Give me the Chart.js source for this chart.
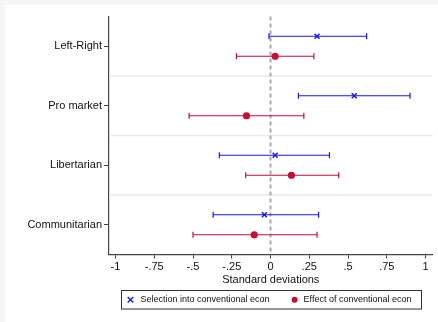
<!DOCTYPE html>
<html>
<head>
<meta charset="utf-8">
<script src="https://cdn.jsdelivr.net/npm/chart.js@4/dist/chart.umd.min.js"></script>
<style>
  html, body { margin: 0; padding: 0; background: #f6f6f6; }
  #wrap { position: absolute; left: 5px; top: 5px; width: 433px; height: 317px; background: #fff; }
</style>
</head>
<body>
<div id="wrap"><canvas id="coefChart" width="433" height="317"></canvas></div>
<script>
// coefficient estimates and 95% intervals
const categories = ['Left-Right', 'Pro market', 'Libertarian', 'Communitarian'];
const selEst = [0.30, 0.54, 0.03, -0.04];
const selLo  = [-0.01, 0.18, -0.33, -0.37];
const selHi  = [0.62, 0.90, 0.38, 0.31];
const effEst = [0.03, -0.155, 0.135, -0.105];
const effLo  = [-0.22, -0.525, -0.16, -0.50];
const effHi  = [0.28, 0.215, 0.44, 0.30];
const xTicks = [-1, -0.75, -0.5, -0.25, 0, 0.25, 0.5, 0.75, 1];
const xTickLabels = ['-1', '-.75', '-.5', '-.25', '0', '.25', '.5', '.75', '1'];
const seriesNames = ['Selection into conventional econ', 'Effect of conventional econ'];

const FONT = 'Liberation Sans, Arial, Helvetica, sans-serif';
const BLUE = 'rgb(24,24,240)';
const RED = 'rgb(196,14,56)';
const OFF = 0.168;

function toPoints(est, shift) {
    return est.map((v, i) => ({ x: v, y: i + 0.5 + shift }));
}

// error bars + dashed zero line + group separators
const decor = {
    id: 'decor',
    beforeDatasetsDraw(chart) {
        const { ctx, chartArea: a, scales: { x, y } } = chart;
        ctx.save();
        // separators between groups
        ctx.strokeStyle = '#e6ebee';
        ctx.lineWidth = 1.5;
        for (let k = 1; k < categories.length; k++) {
            const py = y.getPixelForValue(k);
            ctx.beginPath();
            ctx.moveTo(a.left, py);
            ctx.lineTo(a.right, py);
            ctx.stroke();
        }
        // zero line
        const zx = x.getPixelForValue(0);
        ctx.strokeStyle = '#a9a9a9';
        ctx.lineWidth = 2;
        ctx.setLineDash([4, 3]);
        ctx.beginPath();
        ctx.moveTo(zx, a.top);
        ctx.lineTo(zx, a.bottom);
        ctx.stroke();
        ctx.setLineDash([]);
        // intervals
        chart.data.datasets.forEach((ds, i) => {
            const meta = chart.getDatasetMeta(i);
            ctx.strokeStyle = ds.borderColor;
            ctx.lineWidth = 1.2;
            meta.data.forEach((pt, j) => {
                const x0 = x.getPixelForValue(ds.errLo[j]);
                const x1 = x.getPixelForValue(ds.errHi[j]);
                const py = pt.y;
                ctx.beginPath();
                ctx.moveTo(x0, py); ctx.lineTo(x1, py);
                ctx.moveTo(x0, py - 3); ctx.lineTo(x0, py + 3);
                ctx.moveTo(x1, py - 3); ctx.lineTo(x1, py + 3);
                ctx.stroke();
            });
        });
        ctx.restore();
    },
    afterDraw(chart) {
        // boxed legend under the plot
        const { ctx, chartArea: a } = chart;
        ctx.save();
        ctx.font = '9px ' + FONT;
        const w0 = ctx.measureText(seriesNames[0]).width;
        const w1 = ctx.measureText(seriesNames[1]).width;
        const boxW = 9 + 10 + w0 + 25 + 9 + w1 + 10;
        const left = Math.round((a.left + a.right) / 2 - boxW / 2) + 0.5;
        const top = 285.5, h = 18.5;
        ctx.strokeStyle = '#333';
        ctx.lineWidth = 1;
        ctx.strokeRect(left, top, boxW, h);
        const cy = top + h / 2;
        // marker 1: cross
        let mx = left + 9;
        ctx.strokeStyle = BLUE;
        ctx.lineWidth = 1.4;
        ctx.beginPath();
        ctx.moveTo(mx - 2.8, cy - 2.8); ctx.lineTo(mx + 2.8, cy + 2.8);
        ctx.moveTo(mx - 2.8, cy + 2.8); ctx.lineTo(mx + 2.8, cy - 2.8);
        ctx.stroke();
        ctx.fillStyle = '#111';
        ctx.textBaseline = 'middle';
        ctx.fillText(seriesNames[0], mx + 10, cy);
        // marker 2: dot
        mx = mx + 10 + w0 + 25;
        ctx.fillStyle = RED;
        ctx.beginPath();
        ctx.arc(mx, cy, 3, 0, Math.PI * 2);
        ctx.fill();
        ctx.fillStyle = '#111';
        ctx.fillText(seriesNames[1], mx + 9, cy);
        ctx.restore();
    }
};

new Chart(document.getElementById('coefChart'), {
    type: 'scatter',
    data: {
        datasets: [
            {
                label: seriesNames[0],
                data: toPoints(selEst, -OFF),
                errLo: selLo, errHi: selHi,
                borderColor: BLUE,
                backgroundColor: BLUE,
                pointStyle: 'crossRot',
                pointRadius: 3.5,
                pointBorderWidth: 1.5
            },
            {
                label: seriesNames[1],
                data: toPoints(effEst, OFF),
                errLo: effLo, errHi: effHi,
                borderColor: RED,
                backgroundColor: RED,
                pointStyle: 'circle',
                pointRadius: 3.6,
                pointBorderWidth: 0
            }
        ]
    },
    options: {
        responsive: false,
        animation: false,
        devicePixelRatio: 1,
        layout: { padding: { top: 11.5, right: 5, bottom: 31.5, left: 0 } },
        plugins: { legend: { display: false }, tooltip: { enabled: false } },
        scales: {
            x: {
                type: 'linear',
                min: -1.042,
                max: 1.045,
                afterBuildTicks: s => { s.ticks = xTicks.map(v => ({ value: v })); },
                afterFit: s => { s.height = 36; },
                ticks: {
                    autoSkip: false,
                    maxRotation: 0,
                    padding: 2,
                    color: '#111',
                    font: { family: FONT, size: 11 },
                    callback: (v) => xTickLabels[xTicks.indexOf(v)]
                },
                grid: { drawOnChartArea: false, drawTicks: true, tickLength: 4, color: '#444', lineWidth: 1 },
                border: { display: true, color: '#444', width: 1.2 },
                title: {
                    display: true,
                    text: 'Standard deviations',
                    color: '#111',
                    font: { family: FONT, size: 11 },
                    padding: { top: 0, bottom: 4 }
                }
            },
            y: {
                type: 'linear',
                min: 0,
                max: categories.length,
                reverse: true,
                afterBuildTicks: s => { s.ticks = categories.map((c, i) => ({ value: i + 0.5 })); },
                afterFit: s => { s.width = 104; },
                ticks: {
                    autoSkip: false,
                    padding: 2,
                    color: '#111',
                    font: { family: FONT, size: 11 },
                    callback: (v) => categories[Math.round(v - 0.5)]
                },
                grid: { drawOnChartArea: false, drawTicks: true, tickLength: 5, color: '#444', lineWidth: 1 },
                border: { display: true, color: '#444', width: 1.2 }
            }
        }
    },
    plugins: [decor]
});
</script>
</body>
</html>
